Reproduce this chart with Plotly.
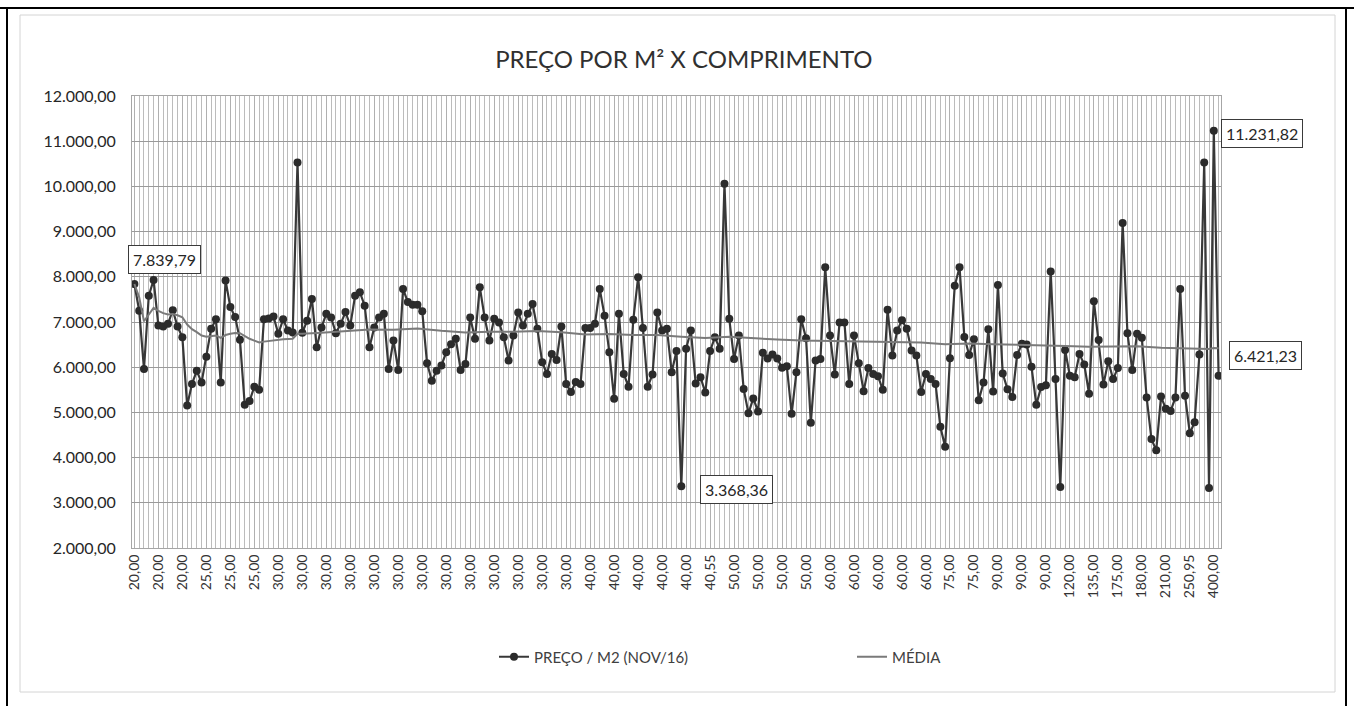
import plotly.graph_objects as go

# ---------------- data ----------------
tick_labels = [
    "20,00", "20,00", "20,00", "25,00", "25,00", "25,00",
    "30,00", "30,00", "30,00", "30,00", "30,00", "30,00", "30,00",
    "30,00", "30,00", "30,00", "30,00", "30,00", "30,00",
    "40,00", "40,00", "40,00", "40,00", "40,00", "40,55",
    "50,00", "50,00", "50,00", "50,00",
    "60,00", "60,00", "60,00", "60,00", "60,00",
    "75,00", "75,00", "90,00", "90,00", "90,00",
    "120,00", "135,00", "175,00", "180,00", "210,00", "250,95", "400,00",
]

price = [
    7839.79, 7250, 5960, 7580, 7930, 6920, 6900, 6960, 7260, 6900,
    6660, 5150, 5630, 5920, 5660, 6230, 6850, 7060, 5660, 7920,
    7330, 7110, 6610, 5170, 5250, 5570, 5500, 7060, 7080, 7120,
    6740, 7060, 6810, 6770, 10530, 6760, 7030, 7510, 6440, 6880,
    7180, 7100, 6750, 6960, 7220, 6920, 7580, 7660, 7360, 6440,
    6880, 7100, 7180, 5960, 6590, 5940, 7730, 7440, 7380, 7380,
    7240, 6090, 5700, 5920, 6040, 6330, 6510, 6630, 5940, 6070,
    7100, 6630, 7770, 7100, 6590, 7070, 6990, 6660, 6150, 6700,
    7210, 6920, 7180, 7400, 6850, 6110, 5850, 6290, 6160, 6900,
    5630, 5450, 5670, 5630, 6870, 6870, 6960, 7730, 7140, 6330,
    5300, 7180, 5850, 5570, 7050, 7990, 6870, 5570, 5840, 7210,
    6810, 6850, 5890, 6360, 3368.36, 6410, 6810, 5640, 5780, 5440,
    6360, 6660, 6410, 10060, 7070, 6180, 6700, 5520, 4980, 5310,
    5020, 6320, 6190, 6280, 6190, 5990, 6020, 4970, 5890, 7060,
    6640, 4770, 6150, 6180, 8210, 6700, 5840, 6990, 6990, 5630,
    6700, 6090, 5470, 5980, 5850, 5800, 5500, 7270, 6260, 6810,
    7040, 6850, 6370, 6260, 5450, 5850, 5740, 5630, 4680, 4240,
    6200, 7800, 8210, 6670, 6270, 6620, 5270, 5660, 6840, 5460,
    7820, 5860, 5510, 5340, 6270, 6520, 6500, 6010, 5170, 5560,
    5600, 8120, 5740, 3350, 6380, 5810, 5780, 6290, 6060, 5410,
    7460, 6600, 5620, 6130, 5740, 5980, 9190, 6750, 5940, 6740,
    6650, 5330, 4410, 4160, 5350, 5080, 5030, 5330, 7730, 5370,
    4540, 4780, 6280, 10530, 3330, 11231.82, 5810,
]

media_idx = [
    0, 1, 2, 3, 4, 5, 6, 7, 8, 9, 10, 11, 12, 13, 14, 15, 16, 17,
    18, 19, 20, 21, 22, 23, 24, 25, 26, 27, 28, 29, 30, 31, 32, 33, 34, 35,
    39, 44, 49, 54, 59, 64, 69, 74, 79, 84, 89, 94, 99, 104, 109, 114,
    119, 124, 129, 134, 139, 144, 149, 154, 159, 164, 169, 174, 179, 184,
    189, 194, 199, 204, 209, 214, 219, 224, 225, 226,
]
media_val = [
    7840, 7545, 7017, 7158, 7312, 7247, 7197, 7168, 7178, 7150, 7105, 6943,
    6842, 6776, 6701, 6672, 6682, 6703, 6648, 6712, 6741, 6758, 6752, 6686,
    6628, 6588, 6547, 6566, 6583, 6601, 6606, 6620, 6626, 6630, 6741, 6742,
    6764, 6795, 6835, 6826, 6855, 6805, 6768, 6786, 6782, 6801, 6771, 6723,
    6737, 6711, 6710, 6673, 6646, 6672, 6636, 6613, 6590, 6584, 6578, 6560,
    6553, 6548, 6509, 6524, 6509, 6500, 6485, 6468, 6454, 6450, 6461, 6431,
    6415, 6403, 6425, 6421.23,
]

y_ticks = [2000, 3000, 4000, 5000, 6000, 7000, 8000, 9000, 10000, 11000, 12000]
y_tick_labels = ["2.000,00", "3.000,00", "4.000,00", "5.000,00", "6.000,00",
                 "7.000,00", "8.000,00", "9.000,00", "10.000,00", "11.000,00",
                 "12.000,00"]

callout_texts = ["7.839,79", "3.368,36", "11.231,82", "6.421,23"]

# ---------------- layout helpers ----------------
W, H = 1354, 706
L, R, T, B = 132, 1221, 96, 548


def px(x):
    return (x - L) / (R - L)


def py(y):
    return (B - y) / (B - T)


x_idx = list(range(len(price)))
tick_idx = list(range(0, len(price), 5))[:len(tick_labels)]

fig = go.Figure()
fig.add_trace(go.Scatter(
    x=x_idx, y=price, mode="lines+markers", name="PREÇO / M2 (NOV/16)",
    line=dict(color="#383838", width=2.2),
    marker=dict(color="#2b2b2b", size=8),
))
fig.add_trace(go.Scatter(
    x=media_idx, y=media_val, mode="lines", name="MÉDIA",
    line=dict(color="#7a7a7a", width=2),
))

box = dict(showarrow=False, bordercolor="#3a3a3a", borderwidth=1,
           bgcolor="white", borderpad=4, font=dict(size=16, color="#262626"))
annotations = [
    dict(x=0, y=price[0], text=callout_texts[0], xshift=30, yshift=25, **box),
    dict(x=114, y=price[114], text=callout_texts[1], xshift=55, yshift=-3, **box),
    dict(x=225, y=price[225], text=callout_texts[2], xshift=48, yshift=-3, **box),
    dict(x=media_idx[-1], y=media_val[-1], text=callout_texts[3], xshift=47,
         yshift=-7, **box),
]

shapes = [
    # outer scan frame
    dict(type="line", xref="paper", yref="paper", x0=px(0), x1=px(W), y0=py(8), y1=py(8),
         line=dict(color="black", width=2)),
    dict(type="line", xref="paper", yref="paper", x0=px(7), x1=px(7), y0=py(8), y1=py(H),
         line=dict(color="black", width=2)),
    dict(type="line", xref="paper", yref="paper", x0=px(1346), x1=px(1346), y0=py(8), y1=py(H),
         line=dict(color="black", width=2)),
    # chart area border
    dict(type="rect", xref="paper", yref="paper", x0=px(20), x1=px(1335), y0=py(15), y1=py(692),
         line=dict(color="#d4d4d4", width=1), layer="below"),
]

fig.update_layout(
    width=W, height=H,
    margin=dict(l=L, r=W - R, t=T, b=H - B, autoexpand=False),
    paper_bgcolor="white", plot_bgcolor="white",
    font=dict(family="Lato", color="#262626"),
    title=dict(text="PREÇO POR M² X COMPRIMENTO", x=px(682), xanchor="center",
               y=1 - 60 / H, yanchor="middle",
               font=dict(size=24, color="#303030", family="Lato")),
    showlegend=True,
    legend=dict(orientation="h", x=px(494), xanchor="left", y=py(657),
                yanchor="middle", font=dict(size=15, color="#404040"),
                entrywidth=313, bgcolor="rgba(0,0,0,0)"),
    annotations=annotations,
    shapes=shapes,
    xaxis=dict(
        range=[-0.5, len(price) - 0.5], tickmode="array", tickvals=tick_idx,
        ticktext=tick_labels, tickangle=-90, tickfont=dict(size=14, color="#333333"),
        showgrid=True, gridcolor="#b0b0b0", gridwidth=1,
        minor=dict(tickmode="linear", tick0=0, dtick=1, showgrid=True,
                   gridcolor="#bcbcbc", gridwidth=1),
        showline=True, linecolor="#a6a6a6", linewidth=1, mirror=True,
        zeroline=False, ticks="",
    ),
    yaxis=dict(
        range=[2000, 12000], tickmode="array", tickvals=y_ticks,
        ticktext=y_tick_labels, tickfont=dict(size=16, color="#262626"),
        showgrid=True, gridcolor="#9a9a9a", gridwidth=1, zeroline=False,
        showline=True, linecolor="#a6a6a6", linewidth=1, mirror=True,
        ticks="", ticklabelstandoff=12,
    ),
)

fig.write_html(
    "out.html",
    config={"displayModeBar": False},
    post_script="document.body.style.margin='0';document.body.style.overflow='hidden';",
)
